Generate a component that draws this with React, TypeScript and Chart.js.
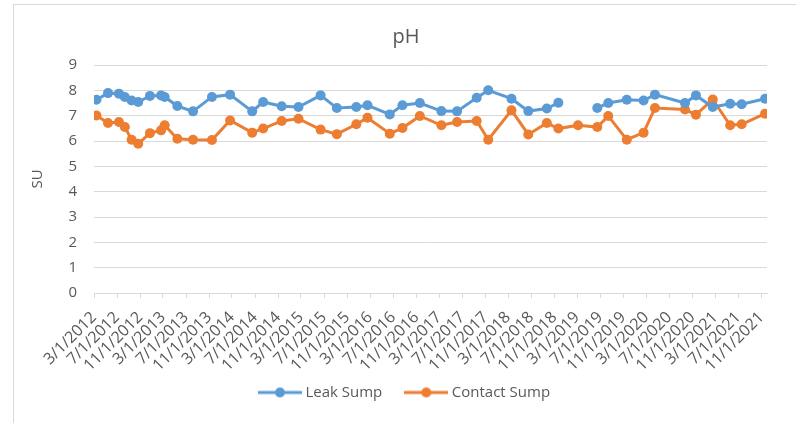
import React, { useEffect, useRef } from "react";
import { Chart, registerables } from "chart.js";

Chart.register(...registerables);
Chart.defaults.font.family = "'Open Sans', sans-serif";
Chart.defaults.color = "#595959";

const sampleDates = [
  "3/14/2012", "5/14/2012", "7/11/2012", "8/11/2012", "9/16/2012", "10/21/2012",
  "12/22/2012", "2/19/2013", "3/10/2013", "5/16/2013", "8/7/2013", "11/15/2013",
  "2/19/2014", "6/16/2014", "8/13/2014", "11/19/2014", "2/16/2015", "6/13/2015",
  "9/7/2015", "12/19/2015", "2/16/2016", "6/13/2016", "8/19/2016", "11/19/2016",
  "3/13/2017", "6/4/2017", "9/16/2017", "11/16/2017", "3/19/2018", "6/16/2018",
  "9/22/2018", "11/22/2018", "3/6/2019", "6/16/2019", "8/13/2019", "11/19/2019",
  "2/16/2020", "4/16/2020", "9/22/2020", "11/19/2020", "2/16/2021", "5/19/2021",
  "7/19/2021", "11/20/2021",
];

const leakSump: (number | null)[] = [
  7.63, 7.89, 7.87, 7.74, 7.6, 7.54, 7.78, 7.8, 7.74, 7.38, 7.17, 7.74,
  7.83, 7.17, 7.54, 7.37, 7.34, 7.8, 7.3, 7.34, 7.41, 7.05, 7.41, 7.5,
  7.18, 7.17, 7.71, 8.0, 7.67, 7.18, 7.28, 7.51, null, 7.3, 7.5, 7.63,
  7.6, 7.83, 7.5, 7.8, 7.34, 7.47, 7.45, 7.67,
];

const contactSump: (number | null)[] = [
  7.01, 6.71, 6.75, 6.55, 6.05, 5.89, 6.31, 6.42, 6.62, 6.09, 6.05, 6.04,
  6.81, 6.33, 6.49, 6.79, 6.88, 6.45, 6.27, 6.66, 6.92, 6.29, 6.51, 6.99,
  6.62, 6.75, 6.79, 6.05, 7.21, 6.26, 6.71, 6.49, 6.62, 6.55, 6.99, 6.05,
  6.33, 7.3, 7.24, 7.04, 7.64, 6.62, 6.66, 7.08,
];

const tickDates = [
  "3/1/2012", "7/1/2012", "11/1/2012", "3/1/2013", "7/1/2013", "11/1/2013",
  "3/1/2014", "7/1/2014", "11/1/2014", "3/1/2015", "7/1/2015", "11/1/2015",
  "3/1/2016", "7/1/2016", "11/1/2016", "3/1/2017", "7/1/2017", "11/1/2017",
  "3/1/2018", "7/1/2018", "11/1/2018", "3/1/2019", "7/1/2019", "11/1/2019",
  "3/1/2020", "7/1/2020", "11/1/2020", "3/1/2021", "7/1/2021", "11/1/2021",
];

const axisStart = "3/1/2012";
const axisEnd = "11/30/2021";
const yMin = 0;
const yMax = 9;

const LEAK_COLOR = "#5b9bd5";
const CONTACT_COLOR = "#ed7d31";
const TEXT_COLOR = "#595959";
const GRID_COLOR = "#d9d9d9";

function toDay(s: string): number {
  const [m, d, y] = s.split("/").map(Number);
  return Date.UTC(y, m - 1, d) / 86400000;
}

function makeMarker(color: string): HTMLCanvasElement {
  const c = document.createElement("canvas");
  c.width = 44;
  c.height = 12;
  const ctx = c.getContext("2d")!;
  ctx.strokeStyle = color;
  ctx.lineWidth = 3;
  ctx.beginPath();
  ctx.moveTo(0, 6);
  ctx.lineTo(44, 6);
  ctx.stroke();
  ctx.fillStyle = color;
  ctx.beginPath();
  ctx.arc(22, 6, 5, 0, Math.PI * 2);
  ctx.fill();
  return c;
}

export default function App() {
  const ref = useRef<HTMLCanvasElement | null>(null);

  useEffect(() => {
    if (!ref.current) return;
    const tickValues = tickDates.map(toDay);
    const labelMap = new Map<number, string>();
    tickDates.forEach((t, i) => labelMap.set(tickValues[i], t));

    const toPoints = (vals: (number | null)[]) =>
      sampleDates.map((d, i) => ({ x: toDay(d), y: vals[i] }));

    const chart = new Chart(ref.current, {
      type: "line",
      data: {
        datasets: [
          {
            label: "Leak Sump",
            data: toPoints(leakSump) as any,
            borderColor: LEAK_COLOR,
            backgroundColor: LEAK_COLOR,
            borderWidth: 3,
            pointRadius: 5,
            pointBorderWidth: 0,
            pointBackgroundColor: LEAK_COLOR,
            tension: 0,
            spanGaps: false,
          },
          {
            label: "Contact Sump",
            data: toPoints(contactSump) as any,
            borderColor: CONTACT_COLOR,
            backgroundColor: CONTACT_COLOR,
            borderWidth: 3,
            pointRadius: 5,
            pointBorderWidth: 0,
            pointBackgroundColor: CONTACT_COLOR,
            tension: 0,
            spanGaps: false,
          },
        ],
      },
      options: {
        animation: false,
        responsive: false,
        layout: { padding: { left: 22, right: 6, top: 0, bottom: 13 } },
        plugins: {
          title: {
            display: true,
            text: "pH",
            color: TEXT_COLOR,
            font: { size: 20, weight: "normal" },
            padding: { top: 25, bottom: 16 },
          },
          legend: {
            position: "bottom",
            labels: {
              usePointStyle: true,
              pointStyleWidth: 36,
              padding: 26,
              color: TEXT_COLOR,
              font: { size: 15 },
              generateLabels: (c: any) =>
                c.data.datasets.map((ds: any, i: number) => ({
                  text: ds.label,
                  fillStyle: ds.borderColor,
                  strokeStyle: ds.borderColor,
                  lineWidth: 0,
                  pointStyle: makeMarker(ds.borderColor),
                  hidden: false,
                  datasetIndex: i,
                  fontColor: TEXT_COLOR,
                })),
            },
          },
          tooltip: { enabled: false },
        },
        scales: {
          x: {
            type: "linear",
            min: toDay(axisStart),
            max: toDay(axisEnd),
            afterBuildTicks: (s: any) => {
              s.ticks = tickValues.map((v) => ({ value: v }));
            },
            afterFit: (s: any) => {
              s.height = 66;
              s._computeLabelArea = () => undefined;
            },
            ticks: {
              autoSkip: false,
              maxRotation: 45,
              minRotation: 45,
              color: TEXT_COLOR,
              font: { size: 16 },
              padding: 10,
              callback: (v: any) => labelMap.get(Number(v)) ?? "",
            },
            grid: { drawOnChartArea: false, color: GRID_COLOR, tickLength: 5 },
            border: { color: GRID_COLOR, width: 1 },
          },
          y: {
            min: yMin,
            max: yMax,
            afterFit: (s: any) => {
              s.width = 72;
            },
            ticks: { stepSize: 1, color: TEXT_COLOR, font: { size: 15 }, padding: 17 },
            grid: { color: GRID_COLOR, drawTicks: false },
            border: { display: false },
            title: {
              display: true,
              text: "SU",
              color: TEXT_COLOR,
              font: { size: 15 },
              padding: { top: 7, bottom: 0 },
            },
          },
          yR: {
            position: "right",
            min: yMin,
            max: yMax,
            afterFit: (s: any) => {
              s.width = 23;
            },
            ticks: { display: false },
            grid: { display: false },
            border: { display: false },
          },
        },
      } as any,
    });
    return () => chart.destroy();
  }, []);

  return (
    <div
      style={{
        position: "fixed",
        left: 0,
        top: 0,
        width: 796,
        height: 423,
        overflow: "hidden",
        background: "#ffffff",
      }}
    >
      <div
        style={{
          position: "absolute",
          left: 13,
          top: 4,
          right: -10,
          bottom: -10,
          border: `1px solid ${GRID_COLOR}`,
        }}
      />
      <canvas
        ref={ref}
        width={796}
        height={423}
        style={{ position: "absolute", left: 0, top: 0, width: 796, height: 423 }}
      />
    </div>
  );
}
